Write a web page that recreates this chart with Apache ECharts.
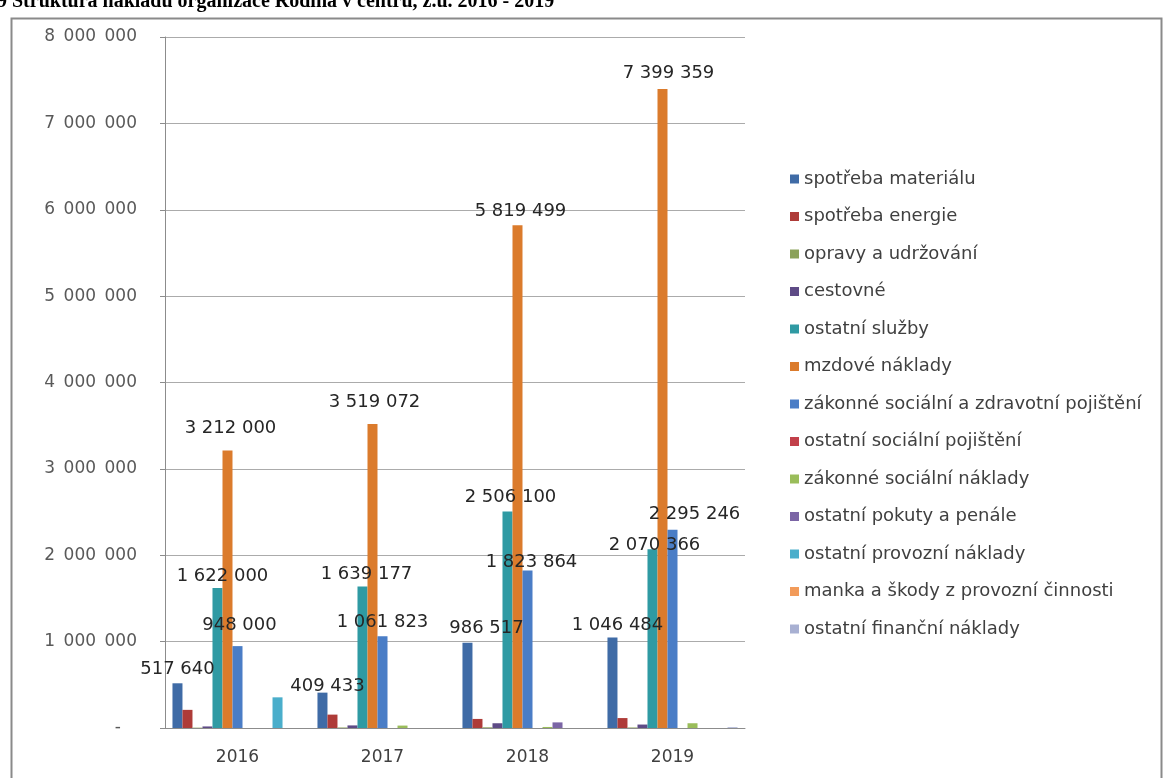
<!DOCTYPE html>
<html lang="cs">
<head>
<meta charset="utf-8">
<title>Struktura nákladů organizace Rodina v centru, z.ú. 2016 - 2019</title>
<script src="https://cdn.jsdelivr.net/npm/echarts@6/dist/echarts.min.js"></script>
<style>
  html, body { margin: 0; padding: 0; background: #ffffff; }
  #chart { width: 1172px; height: 778px; }
</style>
</head>
<body>
<div id="chart"></div>
<script>
// Roky (kategorie osy X)
const years = ['2016', '2017', '2018', '2019'];

// Nákladové položky v pořadí legendy
const spotrebaMaterialu   = [517640, 409433, 986517, 1046484];
const spotrebaEnergie     = [210000, 155000, 105000, 115000];
const opravyAUdrzovani    = [4000, 6000, 8000, 6000];
const cestovne            = [18000, 30000, 55000, 40000];
const ostatniSluzby       = [1622000, 1639177, 2506100, 2070366];
const mzdoveNaklady       = [3212000, 3519072, 5819499, 7399359];
const zakonnePojisteni    = [948000, 1061823, 1823864, 2295246];
const ostatniSocPojisteni = [0, 0, 0, 0];
const zakonneSocNaklady   = [0, 28000, 12000, 55000];
const pokutyAPenale       = [0, 0, 65000, 0];
const ostatniProvozni     = [355000, 0, 0, 0];
const mankaASkody         = [0, 0, 0, 0];
const ostatniFinancni     = [0, 0, 0, 9000];

// Popisky osy Y
const yTicks = [0, 1000000, 2000000, 3000000, 4000000, 5000000, 6000000, 7000000, 8000000];

const seriesDefs = [
  { name: 'spotřeba materiálu', data: spotrebaMaterialu, color: '#3F6BA6', labels: true },
  { name: 'spotřeba energie', data: spotrebaEnergie, color: '#AE3B38' },
  { name: 'opravy a udržování', data: opravyAUdrzovani, color: '#8BA25A' },
  { name: 'cestovné', data: cestovne, color: '#5E4B86' },
  { name: 'ostatní služby', data: ostatniSluzby, color: '#2F9AA3', labels: true },
  { name: 'mzdové náklady', data: mzdoveNaklady, color: '#DB7B2C', labels: true },
  { name: 'zákonné sociální a zdravotní pojištění', data: zakonnePojisteni, color: '#4A7DC6', labels: true },
  { name: 'ostatní sociální pojištění', data: ostatniSocPojisteni, color: '#C2404A' },
  { name: 'zákonné sociální náklady', data: zakonneSocNaklady, color: '#9ABD5A' },
  { name: 'ostatní pokuty a penále', data: pokutyAPenale, color: '#7B65A5' },
  { name: 'ostatní provozní náklady', data: ostatniProvozni, color: '#4AAECB' },
  { name: 'manka a škody z provozní činnosti', data: mankaASkody, color: '#F29B5A' },
  { name: 'ostatní finanční náklady', data: ostatniFinancni, color: '#A8B0D2' }
];

// Posun jednotlivých popisků hodnot [dx, dy]
const labelShift = {
  'spotřeba materiálu': [[0, 0], [5, 8], [19, 0], [5, 2]],
  'ostatní služby': [[5, 2], [4, 2], [3, 0], [2, 10]],
  'mzdové náklady': [[3, -8], [2, -8], [3, 0], [6, -2]],
  'zákonné sociální a zdravotní pojištění': [[2, -7], [0, 0], [4, 6], [22, -1]]
};

const FONT = '"DejaVu Sans"';

// Oddělení tisíců mezerou
function fmt(v, sep) {
  return String(Math.round(v)).replace(/\B(?=(\d{3})+(?!\d))/g, sep || ' ');
}

const series = seriesDefs.map(def => ({
  name: def.name,
  type: 'bar',
  barGap: '0%',
  barCategoryGap: '10.3%',
  itemStyle: { color: def.color },
  data: def.data.map((v, i) => {
    const item = { value: v };
    if (def.labels) {
      item.label = {
        show: true,
        position: 'top',
        distance: 5,
        offset: labelShift[def.name][i],
        formatter: p => fmt(p.value),
        fontFamily: FONT,
        fontSize: 18,
        color: '#262626'
      };
    }
    return item;
  })
}));

const chart = echarts.init(document.getElementById('chart'), null, { renderer: 'canvas' });

chart.setOption({
  backgroundColor: '#ffffff',
  animation: false,
  graphic: [
    {
      type: 'rect',
      shape: { x: 11.5, y: 18.5, width: 1150, height: 800 },
      style: { fill: '#ffffff', stroke: '#8a8a8a', lineWidth: 2 },
      z: -10
    },
    {
      type: 'text',
      left: -3,
      top: -8,
      style: {
        text: '9 Struktura nákladů organizace Rodina v centru, z.ú. 2016 - 2019',
        font: 'bold 20px "Liberation Serif"',
        fill: '#000000'
      },
      z: 10
    }
  ],
  legend: {
    orient: 'vertical',
    left: 785,
    top: 164,
    itemWidth: 9,
    itemHeight: 9,
    itemGap: 17.5,
    icon: 'rect',
    textStyle: { fontFamily: FONT, fontSize: 18, color: '#404040', lineHeight: 20 },
    data: seriesDefs.map(d => d.name)
  },
  grid: { left: 165, right: 427, top: 37, bottom: 50, containLabel: false },
  xAxis: {
    type: 'category',
    data: years,
    axisLine: { lineStyle: { color: '#8c8c8c', width: 1 } },
    axisTick: { show: false },
    axisLabel: { margin: 21, fontFamily: FONT, fontSize: 17, color: '#404040' },
    splitLine: { show: false }
  },
  yAxis: {
    type: 'value',
    min: yTicks[0],
    max: yTicks[yTicks.length - 1],
    interval: yTicks[1] - yTicks[0],
    axisLine: { show: true, lineStyle: { color: '#8c8c8c', width: 1 } },
    axisTick: { show: true, inside: false, length: 5, lineStyle: { color: '#8c8c8c' } },
    axisLabel: {
      margin: 28,
      fontFamily: FONT,
      fontSize: 17,
      color: '#595959',
      formatter: v => (v === 0 ? '{dash|-}' : fmt(v, '\u2002')),
      rich: { dash: { padding: [0, 16, 0, 0], fontFamily: FONT, fontSize: 17, color: '#595959' } }
    },
    splitLine: { show: true, lineStyle: { color: '#ababab', width: 1 } }
  },
  series: series
});
</script>
</body>
</html>
